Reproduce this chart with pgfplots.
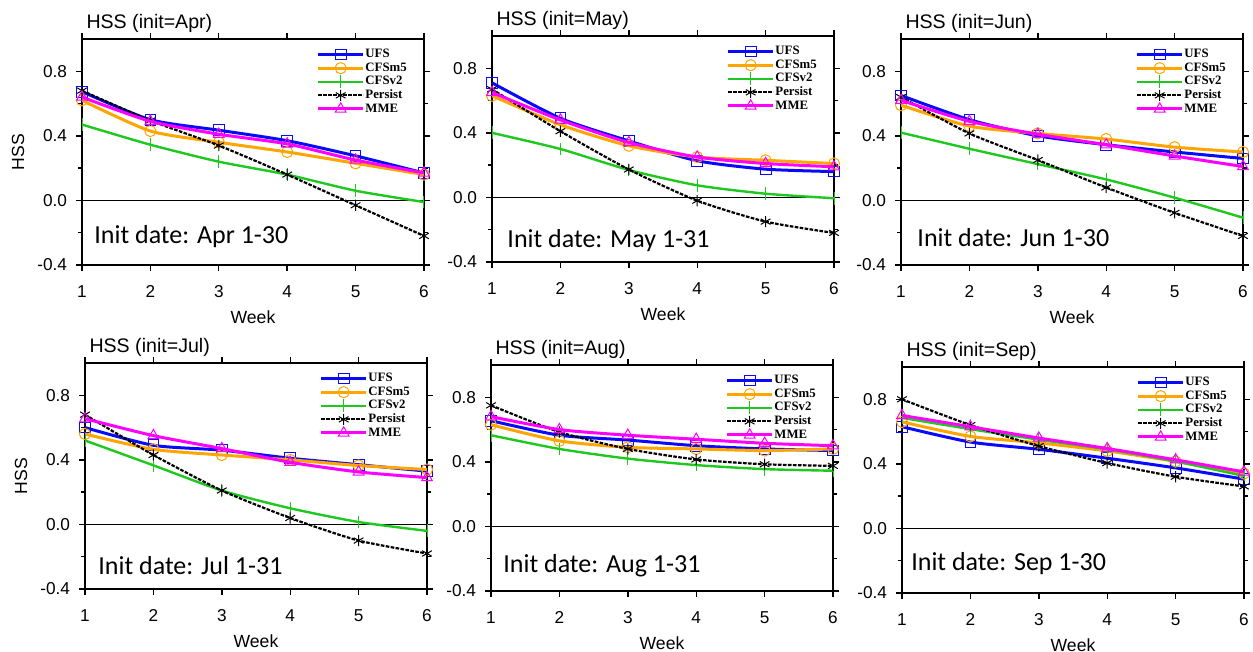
\documentclass[border=0pt]{standalone}
\usepackage{fontspec}
\setmainfont{Liberation Sans}
\newfontfamily\serifl{Liberation Serif}
\newfontfamily\calib{Carlito}
\usepackage{pgfplots}
\usepackage{pgfplotstable}
\pgfplotsset{compat=1.18}

\definecolor{cufs}{RGB}{10,10,250}
\definecolor{ccfsm}{RGB}{255,165,0}
\definecolor{ccfsv}{RGB}{30,200,30}
\definecolor{cmme}{RGB}{255,0,255}

% columns: week UFS CFSm5 CFSv2 Persist MME
\pgfplotstableread{
w u m v p e
1 0.674 0.620 0.470 0.680 0.640
2 0.500 0.430 0.345 0.495 0.490
3 0.435 0.360 0.240 0.340 0.410
4 0.370 0.300 0.160 0.160 0.350
5 0.276 0.230 0.060 -0.030 0.250
6 0.170 0.160 -0.010 -0.220 0.170
}\tapr
\pgfplotstableread{
w u m v p e
1 0.710 0.630 0.400 0.670 0.650
2 0.490 0.450 0.300 0.410 0.480
3 0.350 0.320 0.170 0.173 0.340
4 0.227 0.250 0.075 -0.020 0.250
5 0.175 0.230 0.023 -0.150 0.210
6 0.160 0.210 -0.005 -0.220 0.190
}\tmay
\pgfplotstableread{
w u m v p e
1 0.650 0.590 0.420 0.640 0.620
2 0.500 0.460 0.320 0.415 0.490
3 0.400 0.415 0.225 0.250 0.410
4 0.345 0.380 0.130 0.080 0.345
5 0.300 0.330 0.017 -0.077 0.275
6 0.260 0.300 -0.107 -0.220 0.210
}\tjun
\pgfplotstableread{
w u m v p e
1 0.600 0.560 0.520 0.680 0.655
2 0.490 0.465 0.366 0.430 0.550
3 0.460 0.430 0.210 0.210 0.470
4 0.410 0.400 0.100 0.040 0.385
5 0.370 0.365 0.015 -0.100 0.325
6 0.330 0.340 -0.040 -0.180 0.290
}\tjul
\pgfplotstableread{
w u m v p e
1 0.655 0.630 0.565 0.750 0.680
2 0.565 0.530 0.480 0.585 0.600
3 0.535 0.490 0.420 0.480 0.565
4 0.500 0.480 0.380 0.415 0.540
5 0.480 0.470 0.355 0.385 0.515
6 0.470 0.480 0.345 0.375 0.500
}\taug
\pgfplotstableread{
w u m v p e
1 0.630 0.660 0.685 0.800 0.700
2 0.535 0.570 0.615 0.640 0.630
3 0.490 0.530 0.550 0.510 0.560
4 0.435 0.480 0.490 0.405 0.495
5 0.375 0.415 0.415 0.320 0.425
6 0.305 0.340 0.325 0.260 0.350
}\tsep

\pgfplotsset{
 legend image code/.code={\draw[mark repeat=2,mark phase=2,#1] plot coordinates {(0pt,0pt)(11.25pt,0pt)(22.5pt,0pt)};},
 hss/.style={
  scale only axis, width=171pt, height=113pt,
  clip mode=individual,
  xmin=1, xmax=6, ymin=-0.4, ymax=1.0,
  xtick={1,2,3,4,5,6}, ytick={-0.4,0,0.4,0.8},
  yticklabels={-0.4,0.0,0.4,0.8},
  minor y tick num=1,
  tick align=outside,
  major tick length=3pt, minor tick length=2pt,
  axis line style={line width=0.8pt},
  every tick/.style={black, line width=0.7pt},
  tick label style={font=\fontsize{8.6}{10}\selectfont},
  xticklabel style={yshift=-3.8pt},
  yticklabel style={xshift=-1pt},
  /pgf/number format/assume math mode=true,
  xlabel={Week},
  xlabel style={font=\fontsize{8.8}{10}\selectfont, at={(rel axis cs:0.5,-0.257)}, anchor=base},
  ylabel style={font=\fontsize{8.8}{10}\selectfont, at={(rel axis cs:-0.187,0.5)}, anchor=center},
  legend style={at={(rel axis cs:0.953,0.963)}, anchor=north east, draw=none, fill=none,
    font=\serifl\bfseries\fontsize{6.4}{6}\selectfont, inner sep=0pt, row sep=0pt,
    nodes={inner sep=0.4pt, text height=4.6pt, text depth=1.4pt}},
  legend cell align=left,
 },
 sufs/.style={cufs, line width=1.5pt, smooth, tension=0.4, mark=square, mark size=2.7pt, mark options={solid, line width=0.5pt}},
 scfsm/.style={ccfsm, line width=1.5pt, smooth, tension=0.4, mark=o, mark size=2.8pt, mark options={solid, line width=0.5pt}},
 scfsv/.style={ccfsv, line width=1.2pt, smooth, tension=0.4, mark=|, mark size=3.2pt, mark options={solid, line width=0.5pt}},
 spers/.style={black, line width=1.1pt, dash pattern=on 1.8pt off 0.7pt, smooth, tension=0.4, mark=asterisk, mark size=2.8pt, mark options={solid, line width=0.5pt}},
 smme/.style={cmme, line width=1.5pt, smooth, tension=0.4, mark=triangle, mark size=3.1pt, mark options={solid, line width=0.5pt}},
}

\newcommand{\series}[1]{%
  \addplot[black, line width=0.4pt, forget plot] coordinates {(1,0) (6,0)};
  \addplot[sufs] table[x=w,y=u] {#1};
  \addplot[scfsm] table[x=w,y=m] {#1};
  \addplot[scfsv] table[x=w,y=v] {#1};
  \addplot[spers] table[x=w,y=p] {#1};
  \addplot[smme] table[x=w,y=e] {#1};
  \legend{UFS,CFSm5,CFSv2,Persist,MME}
}
\newcommand{\ttl}[1]{\node[anchor=base west, inner sep=0pt, font=\fontsize{9.8}{11}\selectfont] at (rel axis cs:0.012,1) [yshift=5pt] {#1};}
\newcommand{\idate}[3]{\node[anchor=base west, inner sep=0pt, font=\calib\fontsize{13}{15}\selectfont] at (rel axis cs:#1,#2) {#3};}

\begin{document}
\begin{tikzpicture}
\useasboundingbox (0,0) rectangle (626.5pt,326pt);

\begin{axis}[hss, at={(41pt,193.5pt)}, anchor=south west, ylabel={HSS}]
\series{\tapr}
\ttl{HSS (init=Apr)}
\idate{0.035}{0.093}{Init date: Apr 1-30}
\end{axis}

\begin{axis}[hss, at={(246pt,195pt)}, anchor=south west]
\series{\tmay}
\ttl{HSS (init=May)}
\idate{0.044}{0.066}{Init date: May 1-31}
\end{axis}

\begin{axis}[hss, at={(450.5pt,193.5pt)}, anchor=south west]
\series{\tjun}
\ttl{HSS (init=Jun)}
\idate{0.047}{0.08}{Init date: Jun 1-30}
\end{axis}

\begin{axis}[hss, at={(42.5pt,31.5pt)}, anchor=south west, ylabel={HSS}]
\series{\tjul}
\ttl{HSS (init=Jul)}
\idate{0.038}{0.066}{Init date: Jul 1-31}
\end{axis}

\begin{axis}[hss, at={(245.5pt,30.5pt)}, anchor=south west]
\series{\taug}
\ttl{HSS (init=Aug)}
\idate{0.035}{0.084}{Init date: Aug 1-31}
\end{axis}

\begin{axis}[hss, at={(451pt,29.5pt)}, anchor=south west]
\series{\tsep}
\ttl{HSS (init=Sep)}
\idate{0.026}{0.10}{Init date: Sep 1-30}
\end{axis}
\end{tikzpicture}
\end{document}
